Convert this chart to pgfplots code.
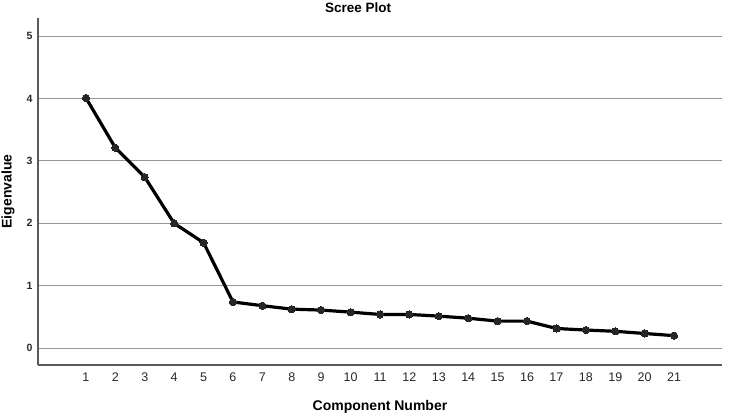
\documentclass[border=0pt]{standalone}
\usepackage{pgfplots}
\pgfplotsset{compat=1.18}
\usepackage{fontspec}
\setmainfont{Liberation Sans}
\definecolor{gridgray}{RGB}{150,150,150}
\definecolor{axgray}{RGB}{90,90,90}
\definecolor{ticktext}{RGB}{40,40,40}
\begin{document}
\begin{tikzpicture}
\useasboundingbox (-38bp,-51bp) rectangle (692bp,365bp);
\begin{axis}[
  at={(0,0)}, anchor=south west,
  scale only axis, width=684bp, height=347bp,
  xmin=-0.63, xmax=22.63, ymin=-0.27, ymax=5.29,
  axis x line*=bottom, axis y line*=left,
  axis line style={axgray, line width=1.2bp, -},
  xtick={1,...,21}, ytick={0,1,2,3,4,5},
  major tick length=0pt,
  ymajorgrids, grid style={gridgray, line width=1bp},
  /pgf/number format/assume math mode=true,
  ticklabel style={font=\fontsize{12.5bp}{14bp}\selectfont, text=ticktext},
  yticklabel style={font=\fontsize{10.5bp}{12bp}\selectfont\bfseries, xshift=-2bp},
  xticklabel style={yshift=-4bp},
  title={Scree Plot},
  title style={at={(axis description cs:0.468,1)}, anchor=center, yshift=4bp, font=\fontsize{13.5bp}{15bp}\selectfont\bfseries},
  xlabel={Component Number},
  xlabel style={at={(axis description cs:0.5,0)}, anchor=center, yshift=-42bp, font=\fontsize{14bp}{16bp}\selectfont\bfseries},
  ylabel={Eigenvalue},
  ylabel style={at={(axis description cs:-0.0439,0.5)}, anchor=center, font=\fontsize{14bp}{16bp}\selectfont\bfseries},
  clip=false,
]
\addplot[black, line width=3.2bp, mark=*, mark size=3.6bp, mark options={fill=black!85, draw=black!85, line width=0bp}, line join=round] coordinates {
(1,4.01) (2,3.21) (3,2.74) (4,2.00) (5,1.69) (6,0.74) (7,0.68) (8,0.625)
(9,0.61) (10,0.577) (11,0.54) (12,0.54) (13,0.513) (14,0.48) (15,0.433)
(16,0.433) (17,0.315) (18,0.29) (19,0.27) (20,0.235) (21,0.20)
};
\end{axis}
\end{tikzpicture}
\end{document}
